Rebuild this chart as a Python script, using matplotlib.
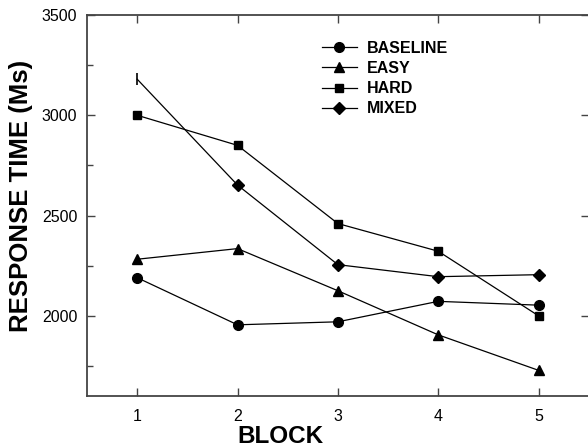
import matplotlib
matplotlib.use("Agg")
import matplotlib.pyplot as plt
from matplotlib.ticker import MultipleLocator

plt.rcParams['font.family'] = ['Liberation Sans', 'DejaVu Sans']

blocks = [1, 2, 3, 4, 5]
baseline = [2190, 1955, 1970, 2072, 2053]
easy = [2282, 2335, 2125, 1905, 1728]
hard = [3000, 2850, 2460, 2322, 2000]
mixed = [3180, 2652, 2255, 2195, 2205]
labels = ["BASELINE", "EASY", "HARD", "MIXED"]

fig = plt.figure(figsize=(5.88, 4.48), dpi=100)
W, H = 588, 448
ax = fig.add_axes([87 / W, (H - 396) / H, (588.7 - 87) / W, (396 - 15) / H])

lw = 0.9
ax.plot(blocks, baseline, color='black', lw=lw, marker='o', ms=7, label=labels[0])
ax.plot(blocks, easy, color='black', lw=lw, marker='^', ms=7.5, label=labels[1])
ax.plot(blocks, hard, color='black', lw=lw, marker='s', ms=6, label=labels[2])
ax.plot(blocks, mixed, color='black', lw=lw, marker='D', ms=6, markevery=[1, 2, 3, 4], label=labels[3])
ax.plot(blocks[:1], mixed[:1], color='black', lw=0, marker='|', ms=9, mew=1.2)

ax.set_xlim(0.5, 5.5)
ax.set_ylim(1600, 3500)
ax.set_xticks(blocks)
ax.yaxis.set_major_locator(MultipleLocator(500))
ax.yaxis.set_minor_locator(MultipleLocator(250))
ax.set_yticks([2000, 2500, 3000, 3500])

for s in ax.spines.values():
    s.set_color('#444444')
    s.set_linewidth(1.3)

ax.tick_params(axis='both', which='major', direction='in', length=6, width=1, color='#444444',
               labelsize=11.5, top=True, right=True)
ax.tick_params(axis='y', which='minor', direction='in', length=4, width=1, color='#444444',
               left=True, right=False)
ax.tick_params(axis='x', which='major', pad=9)
ax.tick_params(axis='y', which='major', pad=7)

ax.set_xlabel("BLOCK", fontsize=17.5, fontweight='bold')
ax.set_ylabel("RESPONSE TIME (Ms)", fontsize=18.5, fontweight='bold')
ax.xaxis.set_label_coords(0.385, -0.076)
ax.yaxis.set_label_coords(-0.108, 0.524)

leg = ax.legend(loc='upper left', bbox_to_anchor=(0.468, 0.932), frameon=False,
                prop={'weight': 'bold', 'size': 11.5}, handlelength=2.2, handletextpad=0.6,
                labelspacing=0.32, borderpad=0, borderaxespad=0)

fig.savefig("out.png", dpi=100)
